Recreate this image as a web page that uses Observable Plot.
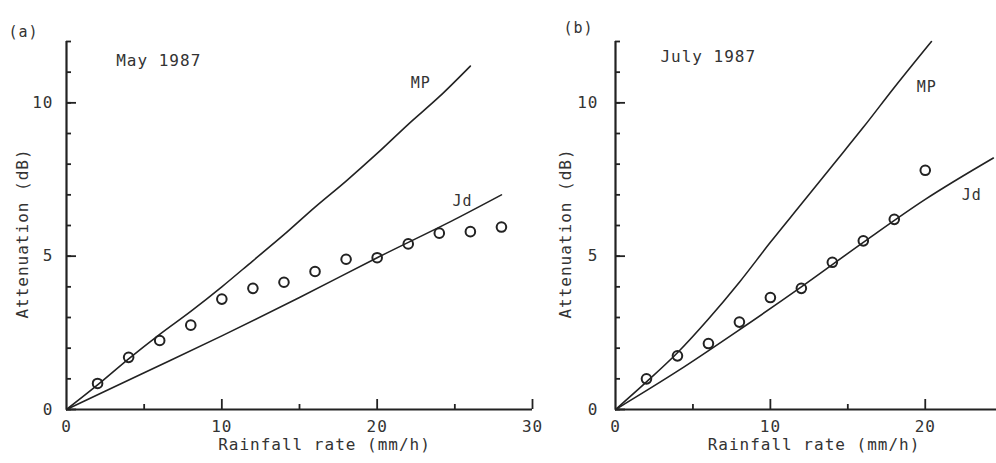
<!DOCTYPE html>
<html><head><meta charset="utf-8">
<script src="https://cdn.jsdelivr.net/npm/d3@7"></script>
<script src="https://cdn.jsdelivr.net/npm/@observablehq/plot@0.6"></script>
<style>
body{margin:0;background:#fff;}
#wrap{position:relative;width:996px;height:463px;overflow:hidden;background:#fff;}
#wrap svg{position:absolute;top:0;overflow:visible;background:transparent;}
</style></head><body><div id="wrap"></div>
<script>
// Panel (a): May 1987
const mayRain = [2,4,6,8,10,12,14,16,18,20,22,24,26,28];
const mayAtten = [0.85,1.7,2.25,2.75,3.6,3.95,4.15,4.5,4.9,4.95,5.4,5.75,5.8,5.95];
const mayMPRain = [0,2,4,6,8,10,12,14,16,18,20,22,24,26];
const mayMPAtten = [0,0.8,1.65,2.45,3.2,4.0,4.85,5.7,6.6,7.45,8.35,9.3,10.2,11.2];
const mayJdRain = [0,5,10,15,20,25,28];
const mayJdAtten = [0,1.2,2.4,3.65,4.95,6.2,7.0];
// Panel (b): July 1987
const julRain = [2,4,6,8,10,12,14,16,18,20];
const julAtten = [1.0,1.75,2.15,2.85,3.65,3.95,4.8,5.5,6.2,7.8];
const julMPRain = [0,2,4,6,8,10,12,14,16,18,20.4];
const julMPAtten = [0,0.9,1.85,2.95,4.15,5.45,6.7,7.95,9.2,10.5,12];
const julJdRain = [0,4,8,12,16,20,24.4];
const julJdAtten = [0,1.25,2.6,4.0,5.45,6.85,8.2];
// Ticks and labels
const yMinorTicks = [0,1,2,3,4,5,6,7,8,9,10,11,12];
const yMajorTicks = [0,5,10];
const mayXMajor = [10,20,30];
const mayXMinor = [5,15,25];
const mayXLabels = [0,10,20,30];
const julXMajor = [10,20];
const julXMinor = [5,15];
const julXLabels = [0,10,20];
const yLabel = "Attenuation (dB)";
const xLabel = "Rainfall rate (mm/h)";

const ink = "#222";
const txt = "#333";

function panel(o) {
  const pts = o.rain.map((r, i) => ({r, a: o.atten[i]}));
  const mp = o.mpRain.map((r, i) => ({r, a: o.mpAtten[i]}));
  const jd = o.jdRain.map((r, i) => ({r, a: o.jdAtten[i]}));
  const svg = Plot.plot({
    width: o.width, height: 463,
    marginLeft: o.marginLeft, marginRight: o.marginRight, marginTop: 41, marginBottom: 54,
    x: {domain: [0, o.xMax]},
    y: {domain: [0, 12]},
    style: {fontFamily: "'DejaVu Sans Mono', monospace", fontSize: "16px", color: txt, background: "transparent", letterSpacing: "1px"},
    marks: [
      Plot.axisY({ticks: yMinorTicks, tickSize: -5, tickFormat: () => "", strokeWidth: 1.8, stroke: ink, label: null}),
      Plot.axisY({ticks: yMajorTicks, tickSize: -10, tickFormat: () => "", strokeWidth: 1.8, stroke: ink, label: null}),
      Plot.axisY({ticks: yMajorTicks, tickSize: 0, tickPadding: o.yPad, fill: txt, label: null}),
      Plot.axisX({ticks: o.xMinor, tickSize: -5, tickFormat: () => "", strokeWidth: 1.8, stroke: ink, label: null}),
      Plot.axisX({ticks: o.xMajor, tickSize: -10, tickFormat: () => "", strokeWidth: 1.8, stroke: ink, label: null}),
      Plot.axisX({ticks: o.xLabels, tickSize: 0, tickPadding: 11, fill: txt, label: null}),
      Plot.ruleX([0], {stroke: ink, strokeWidth: 2.2}),
      Plot.ruleY([0], {stroke: ink, strokeWidth: 2.2}),
      Plot.line(mp, {x: "r", y: "a", curve: "monotone-x", stroke: ink, strokeWidth: 1.6}),
      Plot.line(jd, {x: "r", y: "a", curve: "monotone-x", stroke: ink, strokeWidth: 1.6}),
      Plot.dot(pts, {x: "r", y: "a", r: 4.8, stroke: ink, strokeWidth: 2, fill: "none"}),
      Plot.text([o.title], {x: o.titleX, y: o.titleY, text: d => d, textAnchor: "start", fill: txt}),
      Plot.text(["MP"], {x: o.mpX, y: o.mpY, text: d => d, fill: txt, fontSize: 15}),
      Plot.text(["Jd"], {x: o.jdX, y: o.jdY, text: d => d, fill: txt, fontSize: 15}),
      Plot.text([o.tag], {frameAnchor: "top-left", dx: o.tagDx, dy: o.tagDy, text: d => d, textAnchor: "start", fill: txt, fontSize: 15}),
      Plot.text([yLabel], {frameAnchor: "left", textAnchor: "middle", rotate: -90, dx: o.yLabDx, dy: 8, text: d => d, fill: txt}),
      Plot.text([xLabel], {frameAnchor: "bottom", textAnchor: "middle", dx: o.xLabDx, dy: 40, text: d => d, fill: txt})
    ]
  });
  svg.style.left = o.left + "px";
  document.getElementById("wrap").appendChild(svg);
}

panel({
  rain: mayRain, atten: mayAtten, mpRain: mayMPRain, mpAtten: mayMPAtten, jdRain: mayJdRain, jdAtten: mayJdAtten,
  width: 545, left: 0, marginLeft: 66, marginRight: 13, xMax: 30,
  xMajor: mayXMajor, xMinor: mayXMinor, xLabels: mayXLabels, yPad: 13,
  title: "May 1987", titleX: 3.2, titleY: 11.37,
  mpX: 22.8, mpY: 10.65, jdX: 25.5, jdY: 6.8,
  tag: "(a)", tagDx: -58, tagDy: -15, yLabDx: -44, xLabDx: 25
});
panel({
  rain: julRain, atten: julAtten, mpRain: julMPRain, mpAtten: julMPAtten, jdRain: julJdRain, jdAtten: julJdAtten,
  width: 496, left: 500, marginLeft: 115, marginRight: 0, xMax: 24.6,
  xMajor: julXMajor, xMinor: julXMinor, xLabels: julXLabels, yPad: 17,
  title: "July 1987", titleX: 2.9, titleY: 11.5,
  mpX: 20.1, mpY: 10.5, jdX: 23.0, jdY: 7.0,
  tag: "(b)", tagDx: -52, tagDy: -19, yLabDx: -50, xLabDx: 8
});
</script>
</body></html>
